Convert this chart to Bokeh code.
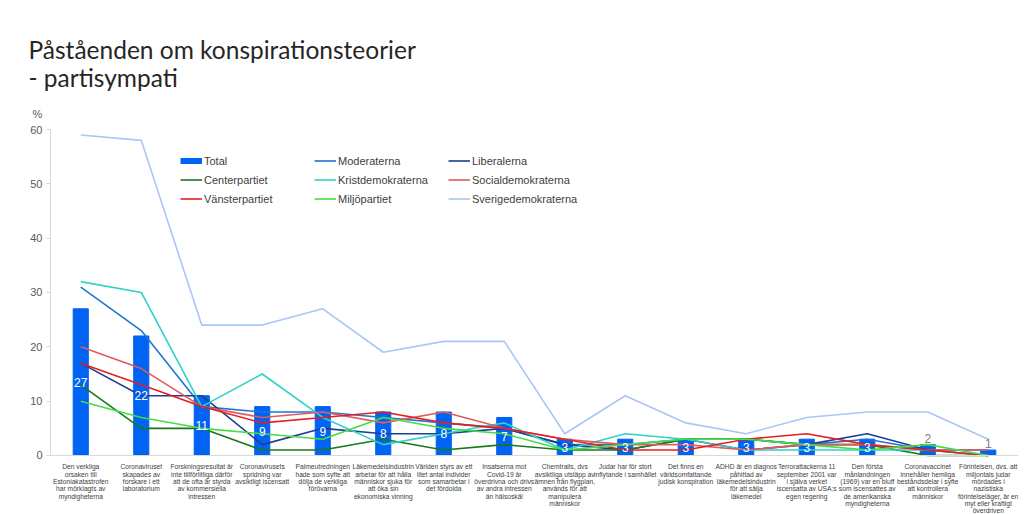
from bokeh.plotting import figure
from bokeh.models import Legend, LegendItem, Title, FixedTicker, Range1d
from bokeh.core.properties import value
from bokeh.embed import file_html
from bokeh.resources import INLINE

statements = [
    "Den verkliga\norsaken till\nEstoniakatastrofen\nhar mörklagts av\nmyndigheterna",
    "Coronaviruset\nskapades av\nforskare i ett\nlaboratorium",
    "Forskningsresultat är\ninte tillförlitliga därför\natt de ofta är styrda\nav kommersiella\nintressen",
    "Coronavirusets\nspridning var\navsiktligt iscensatt",
    "Palmeutredningen\nhade som syfte att\ndölja de verkliga\nförövarna",
    "Läkemedelsindustrin\narbetar för att hålla\nmänniskor sjuka för\natt öka sin\nekonomiska vinning",
    "Världen styrs av ett\nlitet antal individer\nsom samarbetar i\ndet fördolda",
    "Insatserna mot\nCovid-19 är\növerdrivna och drivs\nav andra intressen\nän hälsoskäl",
    "Chemtrails, dvs\navsiktliga utsläpp av\nämnen från flygplan,\nanvänds för att\nmanipulera\nmänniskor",
    "Judar har för stort\ninflytande i samhället",
    "Det finns en\nvärldsomfattande\njudisk konspiration",
    "ADHD är en diagnos\npåhittad av\nläkemedelsindustrin\nför att sälja\nläkemedel",
    "Terrorattackerna 11\nseptember 2001 var\ni själva verket\niscensatta av USA:s\negen regering",
    "Den första\nmånlandningen\n(1969) var en bluff\nsom iscensattes av\nde amerikanska\nmyndigheterna",
    "Coronavaccinet\ninnehåller hemliga\nbeståndsdelar i syfte\natt kontrollera\nmänniskor",
    "Förintelsen, dvs. att\nmiljontals judar\nmördades i\nnazistiska\nförintelseläger, är en\nmyt eller kraftigt\növerdriven",
]

total = [27, 22, 11, 9, 9, 8, 8, 7, 3, 3, 3, 3, 3, 3, 2, 1]
moderaterna = [31, 23, 9, 8, 8, 7, 6, 5, 2, 2, 3, 3, 2, 3, 1, 1]
liberalerna = [17, 11, 11, 2, 5, 4, 4, 5, 2, 1, 3, 1, 2, 4, 1, 0]
centerpartiet = [13, 5, 5, 1, 1, 3, 1, 2, 1, 1, 3, 3, 2, 2, 0, 0]
kristdemokraterna = [32, 30, 9, 15, 7, 2, 4, 6, 1, 4, 3, 1, 1, 1, 1, 0]
socialdemokraterna = [20, 16, 9, 7, 8, 6, 8, 5, 3, 2, 2, 1, 2, 2, 1, 1]
vansterpartiet = [17, 13, 9, 6, 7, 8, 6, 5, 3, 1, 1, 3, 4, 2, 1, 0]
miljopartiet = [10, 7, 5, 4, 3, 7, 5, 4, 1, 2, 3, 3, 2, 1, 2, 0]
sverigedemokraterna = [59, 58, 24, 24, 27, 19, 21, 21, 4, 11, 6, 4, 7, 8, 8, 3]

y_ticks = [0, 10, 20, 30, 40, 50, 60]

BAR_COLOR = "#0063f3"
series = [
    ("Moderaterna", moderaterna, "#1f74d6"),
    ("Liberalerna", liberalerna, "#1c3f94"),
    ("Centerpartiet", centerpartiet, "#17791b"),
    ("Kristdemokraterna", kristdemokraterna, "#2fd2c8"),
    ("Socialdemokraterna", socialdemokraterna, "#e05a5e"),
    ("Vänsterpartiet", vansterpartiet, "#e3201f"),
    ("Miljöpartiet", miljopartiet, "#45dc45"),
    ("Sverigedemokraterna", sverigedemokraterna, "#a9c6f6"),
]

idx = list(range(len(statements)))

p = figure(width=1024, height=514, output_backend="svg", toolbar_location=None,
           x_range=Range1d(-0.5, 15.5), y_range=Range1d(-10.86, 60),
           min_border_left=50, min_border_right=6, min_border_top=129,
           min_border_bottom=0)
p.outline_line_color = None
p.xgrid.grid_line_color = None
p.ygrid.grid_line_color = None
p.background_fill_color = "white"

bars = p.vbar(x=idx, top=total, width=0.25, color=BAR_COLOR)

renderers = {}
for name, vals, color in series:
    renderers[name] = p.line(idx, vals, line_width=1.6, color=color)

proxy = p.line(x=[float("nan")], y=[float("nan")], line_width=6, color=BAR_COLOR)

# bar value labels
in_x = [i for i, t in zip(idx, total) if t >= 3]
in_y = [t / 2 for t in total if t >= 3]
in_t = [str(t) for t in total if t >= 3]
p.text(x=in_x, y=in_y, text=in_t, text_color="white", text_align="center",
       text_baseline="middle", text_font=value("Liberation Sans"), text_font_size="12px")
out_x = [i for i, t in zip(idx, total) if t < 3]
out_y = [t for t in total if t < 3]
out_t = [str(t) for t in total if t < 3]
p.text(x=out_x, y=out_y, text=out_t, text_color="#808080", text_align="center",
       text_baseline="bottom", y_offset=-2, text_font=value("Liberation Sans"),
       text_font_size="12px")

# axes
p.xaxis.fixed_location = 0
p.xaxis.ticker = FixedTicker(ticks=idx)
p.xaxis.major_label_overrides = {i: s for i, s in zip(idx, statements)}
p.xaxis.major_label_text_font = "Liberation Sans"
p.xaxis.major_label_text_font_size = "6.7px"
p.xaxis.major_label_text_line_height = 1.04
p.xaxis.major_label_text_color = "#404040"
p.xaxis.major_tick_line_color = None
p.xaxis.minor_tick_line_color = None
p.xaxis.axis_line_color = "#d9d9d9"
p.xaxis.major_label_standoff = 2

p.yaxis.ticker = FixedTicker(ticks=y_ticks)
p.yaxis.bounds = (0, 60)
p.yaxis.major_label_text_font = "Liberation Sans"
p.yaxis.major_label_text_font_size = "11px"
p.yaxis.major_label_text_color = "#595959"
p.yaxis.axis_line_color = "#d9d9d9"
p.yaxis.major_tick_line_color = "#d9d9d9"
p.yaxis.major_tick_out = 4
p.yaxis.major_tick_in = 0
p.yaxis.minor_tick_line_color = None
p.yaxis.major_label_standoff = 4

# legend
items = [LegendItem(label="Total", renderers=[proxy])]
for name, _, _ in series:
    items.append(LegendItem(label=name, renderers=[renderers[name]]))
legend = Legend(items=items, location=(130, 306), orientation="horizontal", ncols=3,
                glyph_width=22, glyph_height=19, label_height=19, label_width=110,
                label_standoff=2, spacing=0, padding=0, margin=0,
                label_text_font="Liberation Sans", label_text_font_size="11px",
                label_text_color="#404040", border_line_color=None,
                background_fill_alpha=0)
p.add_layout(legend, "center")

# titles
p.add_layout(Title(text="%", text_font="Liberation Sans", text_font_size="11px",
                   text_font_style="normal", text_color="#595959", offset=-18,
                   standoff=20), "above")
p.add_layout(Title(text="Påståenden om konspirationsteorier\n- partisympati",
                   text_font="Lato", text_font_size="24.5px", text_line_height=0.97,
                   text_font_style="normal", text_color="#262626", offset=-22,
                   standoff=7), "above")

open("out.html", "w").write(file_html(p, INLINE))
